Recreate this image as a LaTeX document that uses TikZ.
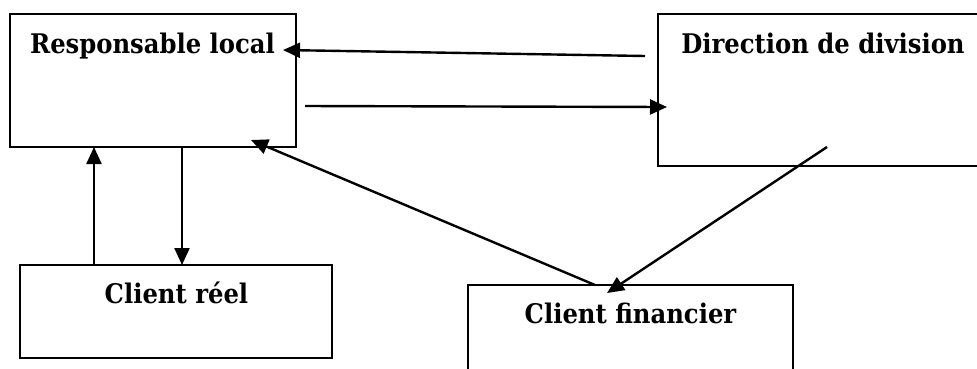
\documentclass[tikz,border=0pt]{standalone}
\usepackage{fontspec}
\setmainfont{DejaVu Serif Condensed}
\usetikzlibrary{arrows.meta}
\tikzset{
  box/.style={draw=black, line width=2pt, rectangle, inner sep=0pt, outer sep=0pt},
  lbl/.style={font=\bfseries\fontsize{27}{32}\selectfont, inner sep=0pt, anchor=base},
  conn/.style={draw=black, line width=2.4pt, -{Triangle[length=17pt,width=15pt]}},
}
\begin{document}
\begin{tikzpicture}[x=1pt,y=-1pt]
\useasboundingbox (0,0) rectangle (977,368);
\clip (0,0) rectangle (977,368);
% boxes
\node[box, minimum width=286pt, minimum height=133pt] (RL) at (153,80.5) {};
\node[box, minimum width=352pt, minimum height=152pt] (DD) at (834,90) {};
\node[box, minimum width=312pt, minimum height=93pt] (CR) at (176,311.5) {};
\node[box, minimum width=325pt, minimum height=110pt] (CF) at (630.5,340) {};
% labels
\node[lbl] (tRL) at (152.5,53) {Responsable local};
\node[lbl] (tDD) at (823,53) {Direction de division};
\node[lbl] (tCR) at (176.5,303) {Client réel};
\node[lbl] (tCF) at (630.5,323) {Client financier};
% free ends
\coordinate (a1s) at (645,56);
\coordinate (a1e) at (283,50);
\coordinate (a2s) at (305,106);
\coordinate (a2e) at (667,107);
\coordinate (a6s) at (827,147);
\coordinate (a6e) at (607,293);
\coordinate (a5e) at (251,140);
% connectors
\draw[conn] (a1s) -- (a1e);
\draw[conn] (a2s) -- (a2e);
\draw[conn] ([xshift=172pt]RL.south west) -- ([xshift=162pt]CR.north west);
\draw[conn] ([xshift=74pt]CR.north west) -- ([xshift=84pt]RL.south west);
\draw[conn] ([xshift=127pt]CF.north west) -- (a5e);
\draw[conn] (a6s) -- (a6e);
\end{tikzpicture}
\end{document}
